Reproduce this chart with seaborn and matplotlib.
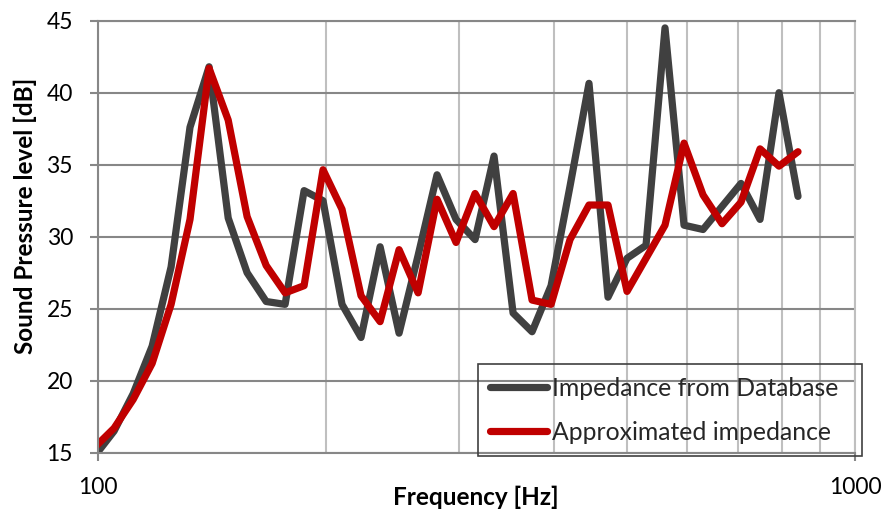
import matplotlib
matplotlib.use("Agg")
import matplotlib.pyplot as plt
import matplotlib.ticker as mticker
from matplotlib.lines import Line2D
import seaborn as sns
import pandas as pd

# ---- data ----
freq_hz = [99.2, 105.1, 111.4, 118.0, 125.0, 132.4, 140.3, 148.7, 157.5, 166.9,
           176.8, 187.3, 198.4, 210.2, 222.7, 236.0, 250.0, 264.9, 280.6, 297.3,
           315.0, 333.7, 353.6, 374.6, 396.9, 420.4, 445.4, 471.9, 500.0, 529.7,
           561.2, 594.6, 630.0, 667.4, 707.1, 749.2, 793.7, 840.9]
database_db = [14.8, 16.5, 19.1, 22.4, 27.9, 37.6, 41.8, 31.3, 27.5, 25.5,
               25.3, 33.2, 32.5, 25.3, 23.0, 29.3, 23.3, 28.7, 34.3, 31.2,
               29.8, 35.6, 24.7, 23.4, 26.6, 33.5, 40.65, 25.8, 28.5, 29.4,
               44.5, 30.8, 30.5, 32.1, 33.7, 31.2, 40.0, 32.8]
approx_db = [15.4, 16.7, 18.7, 21.2, 25.3, 31.2, 41.7, 38.1, 31.4, 28.0,
             26.1, 26.6, 34.65, 31.9, 25.9, 24.1, 29.1, 26.1, 32.6, 29.6,
             33.0, 30.7, 33.0, 25.6, 25.3, 29.8, 32.2, 32.2, 26.2, 28.5,
             30.8, 36.5, 32.9, 30.9, 32.4, 36.1, 34.9, 35.9]
series_names = ["Impedance from Database", "Approximated impedance"]
series_colors = ["#404040", "#C00000"]
y_ticks = [15, 20, 25, 30, 35, 40, 45]
x_ticks = [100, 1000]
x_label = "Frequency [Hz]"
y_label = "Sound Pressure level [dB]"

df = pd.DataFrame({
    "Frequency": freq_hz * 2,
    "SPL": database_db + approx_db,
    "Series": [series_names[0]] * len(freq_hz) + [series_names[1]] * len(freq_hz),
})

sns.set_theme(style="white")
plt.rcParams["font.family"] = ["Lato", "DejaVu Sans"]

W, H = 885, 514
fig = plt.figure(figsize=(W / 100, H / 100), dpi=100)
L, R, T, B = 97.7, 855.0, 20.7, 452.7
ax = fig.add_axes([L / W, 1 - B / H, (R - L) / W, (B - T) / H])

sns.lineplot(data=df, x="Frequency", y="SPL", hue="Series",
             palette=dict(zip(series_names, series_colors)),
             sort=False, linewidth=5.2, ax=ax, legend=False,
             solid_capstyle="round", solid_joinstyle="round")

ax.set_xscale("log")
ax.set_xlim(100, 1000)
ax.set_ylim(15, 45)
ax.set_yticks(y_ticks)
ax.xaxis.set_major_locator(mticker.FixedLocator(x_ticks))
ax.xaxis.set_major_formatter(mticker.FixedFormatter([str(v) for v in x_ticks]))
ax.xaxis.set_minor_locator(mticker.LogLocator(base=10, subs=range(2, 10)))
ax.xaxis.set_minor_formatter(mticker.NullFormatter())

hgrid = "#878787"
vgrid = "#BFBFBF"
ax.grid(True, axis="y", which="major", color=hgrid, linewidth=1.5)
ax.grid(True, axis="x", which="both", color=vgrid, linewidth=1.5)
ax.set_axisbelow(True)

for s in ["top", "bottom", "left"]:
    ax.spines[s].set_visible(True)
    ax.spines[s].set_color(hgrid)
    ax.spines[s].set_linewidth(1.5)
ax.spines["right"].set_visible(True)
ax.spines["right"].set_color(vgrid)
ax.spines["right"].set_linewidth(1.5)

ax.tick_params(axis="y", which="major", length=5.8, width=1.5, color=hgrid,
               direction="out", pad=12, labelsize=16.5, labelcolor="#000000", left=True)
ax.tick_params(axis="x", which="major", length=5.8, width=1.5, color=hgrid,
               direction="out", pad=12, labelsize=16.5, labelcolor="#000000", bottom=True)
ax.tick_params(axis="x", which="minor", length=0)

ax.set_xlabel("")
ax.set_ylabel("")
fig.text(476 / W, 1 - 497 / H, x_label, ha="center", va="center",
         fontsize=17.5, fontweight="bold", color="#000000")
fig.text(25 / W, 1 - 216 / H, y_label, ha="center", va="center", rotation=90,
         fontsize=17.5, fontweight="bold", color="#000000")

handles = [Line2D([0], [0], color=c, linewidth=5.2, solid_capstyle="round")
           for c in series_colors]
leg = ax.legend(handles, series_names, loc="lower left",
                bbox_to_anchor=(0.502, -0.008, 0.507, 0.219), mode="expand",
                borderaxespad=0, frameon=True, fancybox=False,
                fontsize=17.8, handlelength=2.3, handletextpad=0.2,
                labelspacing=0.85, borderpad=0.5)
frame = leg.get_frame()
frame.set_facecolor("none")
frame.set_edgecolor("#404040")
frame.set_linewidth(1.2)
frame.set_alpha(None)

fig.savefig("out.png", dpi=100)
